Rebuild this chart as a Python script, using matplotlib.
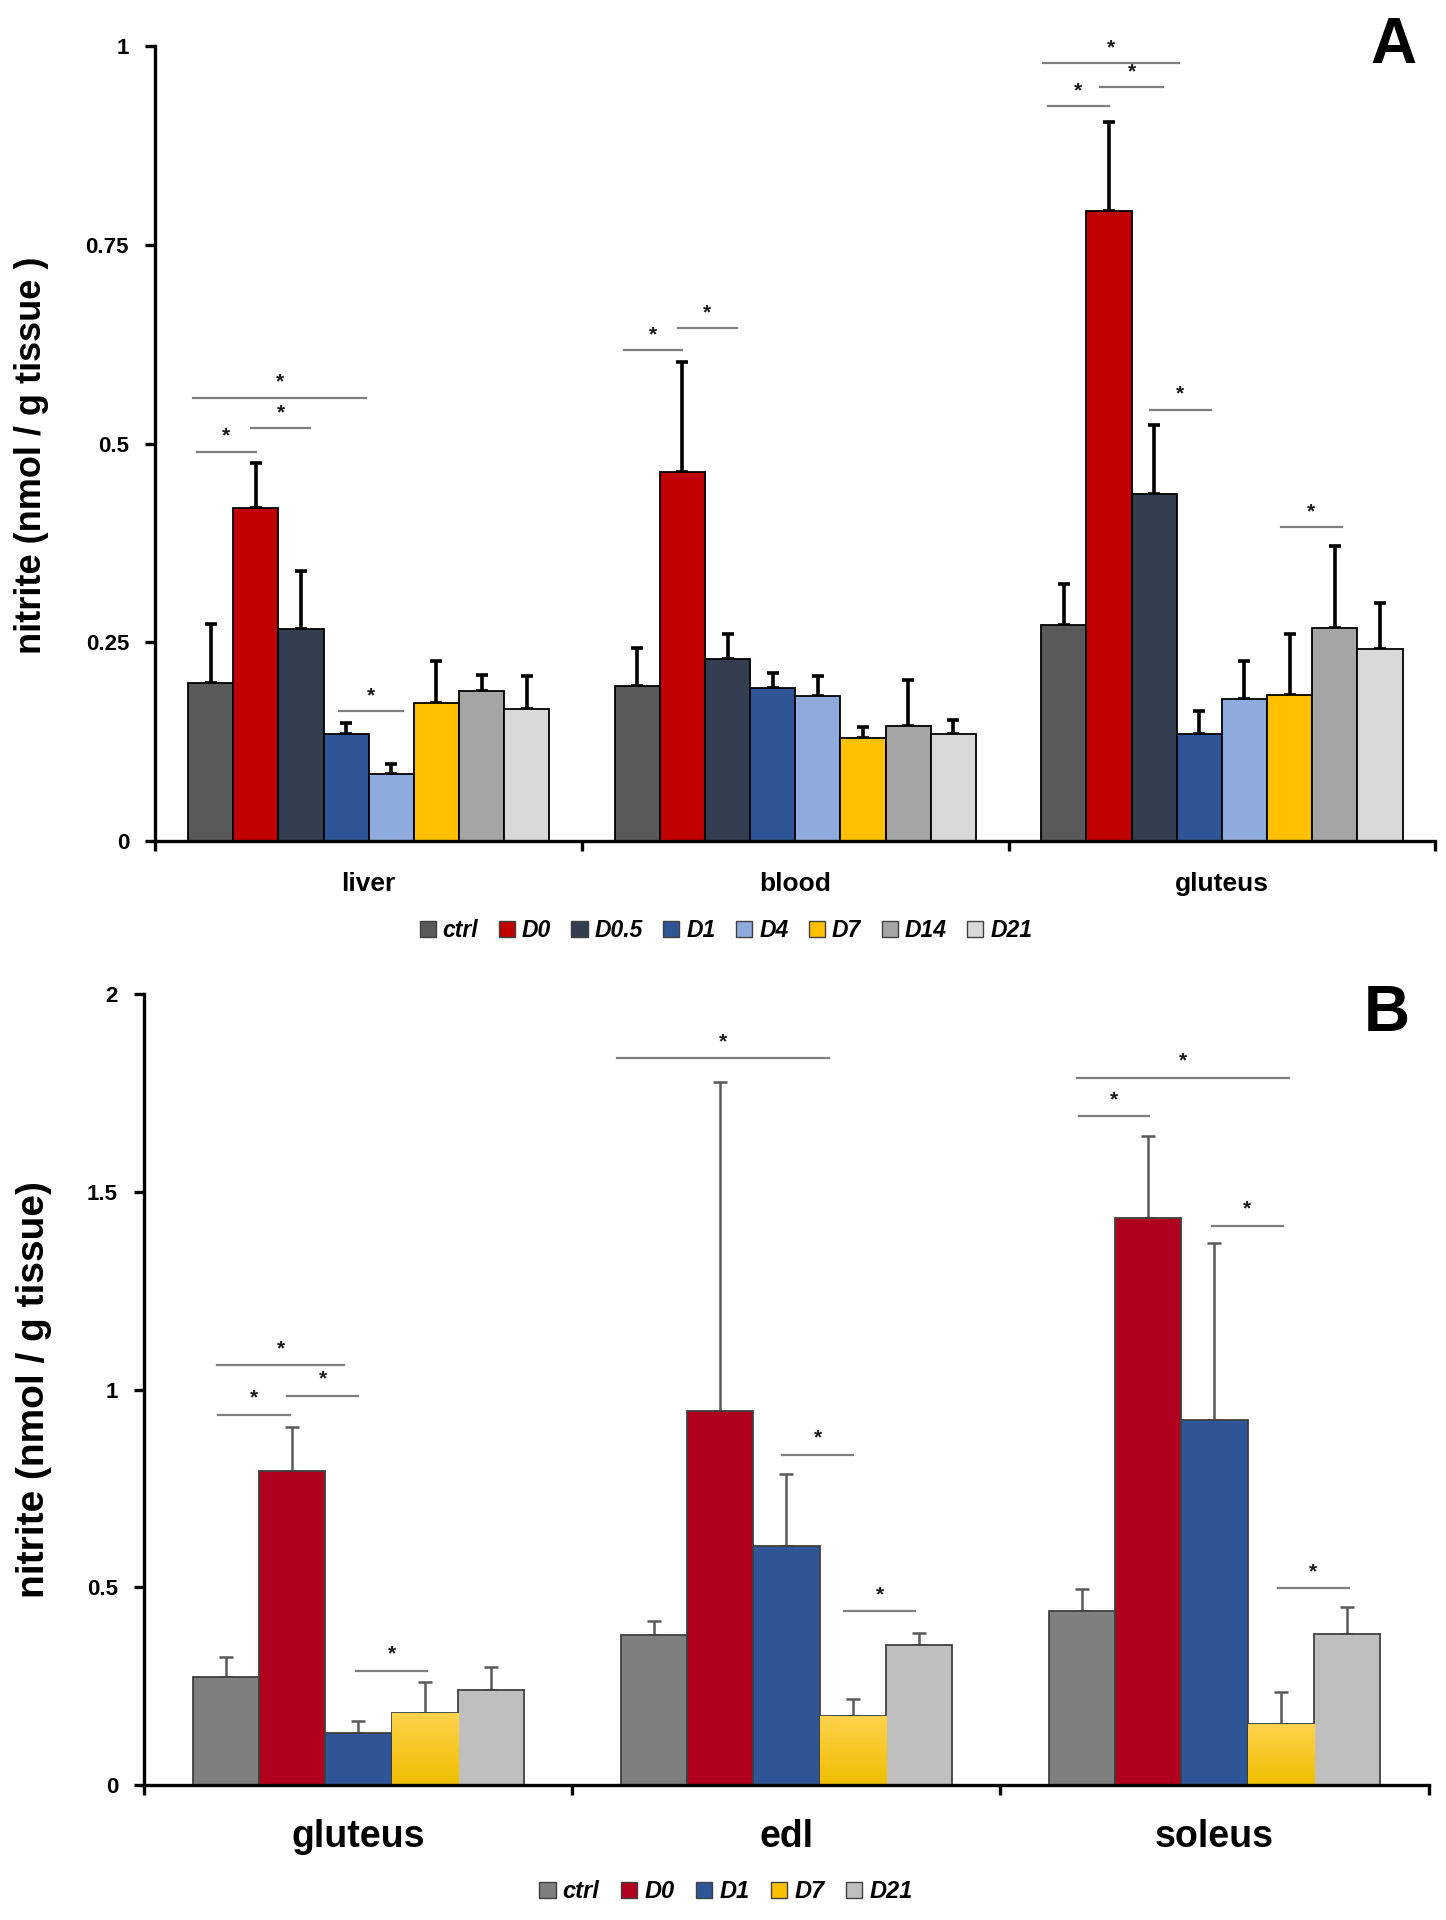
import numpy as np
import matplotlib
matplotlib.use("Agg")
import matplotlib.pyplot as plt
from matplotlib.patches import Patch
from matplotlib.colors import LinearSegmentedColormap

plt.rcParams['font.family'] = ['Liberation Sans', 'DejaVu Sans']

# ---- panel A data ----
tissues_a = ['liver', 'blood', 'gluteus']
groups_a = ['ctrl', 'D0', 'D0.5', 'D1', 'D4', 'D7', 'D14', 'D21']
colors_a = ['#595959', '#C00000', '#333F50', '#2F5597', '#8FAADC', '#FFC000', '#A5A5A5', '#D9D9D9']
liver_mean = [0.199, 0.419, 0.267, 0.135, 0.084, 0.174, 0.189, 0.166]
liver_err = [0.074, 0.057, 0.073, 0.013, 0.013, 0.053, 0.020, 0.041]
blood_mean = [0.195, 0.464, 0.229, 0.193, 0.182, 0.129, 0.145, 0.134]
blood_err = [0.048, 0.139, 0.032, 0.019, 0.025, 0.015, 0.057, 0.018]
glut_a_mean = [0.272, 0.793, 0.437, 0.135, 0.179, 0.184, 0.268, 0.242]
glut_a_err = [0.052, 0.112, 0.086, 0.029, 0.047, 0.077, 0.103, 0.057]
yticks_a = [0, 0.25, 0.5, 0.75, 1]
ytick_labels_a = ['0', '0.25', '0.5', '0.75', '1']
# significance: (tissue, from bar, to bar, height)
sig_a = [(0, -0.3, 1.0, 0.490), (0, 0.9, 2.2, 0.520), (0, -0.4, 3.45, 0.558), (0, 2.85, 4.25, 0.163),
         (1, -0.3, 1.0, 0.618), (1, 0.9, 2.2, 0.646),
         (2, -0.35, 1.0, 0.925), (2, 0.8, 2.2, 0.949), (2, -0.45, 2.55, 0.979),
         (2, 1.9, 3.25, 0.543), (2, 4.8, 6.15, 0.395)]

# ---- panel B data ----
tissues_b = ['gluteus', 'edl', 'soleus']
groups_b = ['ctrl', 'D0', 'D1', 'D7', 'D21']
colors_b = ['#7F7F7F', '#B0001E', '#2F5597', '#FFC000', '#BFBFBF']
glut_b_mean = [0.274, 0.795, 0.132, 0.183, 0.241]
glut_b_err = [0.051, 0.110, 0.031, 0.078, 0.058]
edl_mean = [0.380, 0.947, 0.605, 0.175, 0.355]
edl_err = [0.036, 0.830, 0.183, 0.044, 0.029]
soleus_mean = [0.440, 1.433, 0.924, 0.156, 0.383]
soleus_err = [0.055, 0.208, 0.447, 0.079, 0.067]
yticks_b = [0, 0.5, 1, 1.5, 2]
ytick_labels_b = ['0', '0.5', '1', '1.5', '2']
sig_b = [(0, -0.11, 0.97, 0.936), (0, 0.92, 2.0, 0.984), (0, -0.13, 1.78, 1.062), (0, 1.97, 3.03, 0.289),
         (1, -0.56, 2.64, 1.838), (1, 1.94, 3.01, 0.836), (1, 2.87, 3.94, 0.440),
         (2, -0.04, 1.02, 1.691), (2, -0.08, 3.12, 1.788), (2, 1.96, 3.03, 1.414), (2, 2.95, 4.02, 0.498)]


def draw_panel(ax, tissues, groups, colors, means, errs, bar_w, edge, err_kw, sig, star_off, ymax):
    n = len(groups)
    x = np.arange(len(tissues))
    start = -bar_w * n / 2
    bars = []
    for i in range(n):
        vals = [m[i] for m in means]
        e = [er[i] for er in errs]
        pos = x + start + bar_w * (i + 0.5)
        b = ax.bar(pos, vals, bar_w, color=colors[i], edgecolor=edge, linewidth=1.3, zorder=2)
        ax.errorbar(pos, vals, yerr=[np.zeros(len(e)), e], fmt='none', zorder=1, **err_kw)
        bars.append(b)

    # significance lines
    for t, i0, i1, y in sig:
        x0 = t + start + bar_w * (i0 + 0.5)
        x1 = t + start + bar_w * (i1 + 0.5)
        ax.plot([x0, x1], [y, y], color='#7F7F7F', lw=1.6, zorder=3)
        ax.annotate('*', ((x0 + x1) / 2, y), xytext=(0, star_off), textcoords='offset points',
                    ha='center', va='center', fontsize=15, fontweight='bold', color='#1a1a1a')

    ax.set_xlim(-0.5, len(tissues) - 0.5)
    ax.set_ylim(0, ymax)
    ax.spines['top'].set_visible(False)
    ax.spines['right'].set_visible(False)
    ax.spines['left'].set_linewidth(2.4)
    ax.spines['bottom'].set_linewidth(2.4)
    ax.set_xticks(np.arange(len(tissues) + 1) - 0.5)
    ax.set_xticklabels([])
    ax.tick_params(axis='x', which='major', direction='out', length=7, width=2.4)
    ax.set_xticks(x, minor=True)
    ax.tick_params(axis='x', which='minor', length=0)
    ax.tick_params(axis='y', direction='out', length=7, width=2.4, pad=12)
    return bars


fig = plt.figure(figsize=(14.46, 19.2), dpi=100)

# ---- panel A ----
ax_a = fig.add_axes([0.1075, 0.562, 0.885, 0.4138])
draw_panel(ax_a, tissues_a, groups_a, colors_a,
           [liver_mean, blood_mean, glut_a_mean], [liver_err, blood_err, glut_a_err],
           0.1059, 'black', dict(ecolor='black', elinewidth=2.6, capsize=4, capthick=2.6),
           sig_a, 11, 1)
ax_a.set_yticks(yticks_a)
ax_a.set_yticklabels(ytick_labels_a, fontweight='bold', fontsize=16)
ax_a.set_xticklabels(tissues_a, minor=True, fontweight='bold', fontsize=19)
ax_a.tick_params(axis='x', which='minor', pad=22)
ax_a.set_ylabel('nitrite (nmol / g tissue )', fontweight='bold', fontsize=26)
ax_a.yaxis.set_label_coords(-0.083, 0.485)

handles_a = [Patch(facecolor=c, edgecolor='#404040', linewidth=1) for c in colors_a]
fig.legend(handles_a, groups_a, loc='center', bbox_to_anchor=(0.502, 0.5153), ncol=8, frameon=False,
           prop=dict(weight='bold', style='italic', size=16.5), handlelength=0.7, handleheight=0.7,
           handletextpad=0.3, columnspacing=0.9)

# ---- panel B ----
ax_b = fig.add_axes([0.0999, 0.0702, 0.888, 0.412])
bars_b = draw_panel(ax_b, tissues_b, groups_b, colors_b,
                    [glut_b_mean, edl_mean, soleus_mean], [glut_b_err, edl_err, soleus_err],
                    0.155, '#404040', dict(ecolor='#595959', elinewidth=1.8, capsize=5, capthick=1.8),
                    sig_b, 12, 2)
ax_b.set_yticks(yticks_b)
ax_b.set_yticklabels(ytick_labels_b, fontweight='bold', fontsize=16)
ax_b.set_xticklabels(tissues_b, minor=True, fontweight='bold', fontsize=27)
ax_b.tick_params(axis='x', which='minor', pad=24)
ax_b.set_ylabel('nitrite (nmol / g tissue)', fontweight='bold', fontsize=28)
ax_b.yaxis.set_label_coords(-0.072, 0.5)

# gradient fill on the D7 bars of panel B
grad = LinearSegmentedColormap.from_list('d7', ['#F0BE00', '#FFD34D'])
for rect in bars_b[3]:
    x0, y0 = rect.get_x(), rect.get_y()
    im = ax_b.imshow(np.linspace(0, 1, 100).reshape(-1, 1), cmap=grad, origin='lower', aspect='auto',
                     extent=[x0, x0 + rect.get_width(), y0, y0 + rect.get_height()], zorder=2.1)
    im.set_clip_path(rect)
ax_b.set_xlim(-0.5, 2.5)
ax_b.set_ylim(0, 2)

handles_b = [Patch(facecolor=c, edgecolor='#404040', linewidth=1) for c in colors_b]
fig.legend(handles_b, groups_b, loc='center', bbox_to_anchor=(0.502, 0.0147), ncol=5, frameon=False,
           prop=dict(weight='bold', style='italic', size=17), handlelength=0.7, handleheight=0.7,
           handletextpad=0.3, columnspacing=0.9)

# panel letters
fig.text(0.9636, 0.9758, 'A', fontsize=46, fontweight='heavy', ha='center', va='center')
fig.text(0.959, 0.472, 'B', fontsize=46, fontweight='heavy', ha='center', va='center')

fig.savefig('out.png', dpi=100, facecolor='white')
